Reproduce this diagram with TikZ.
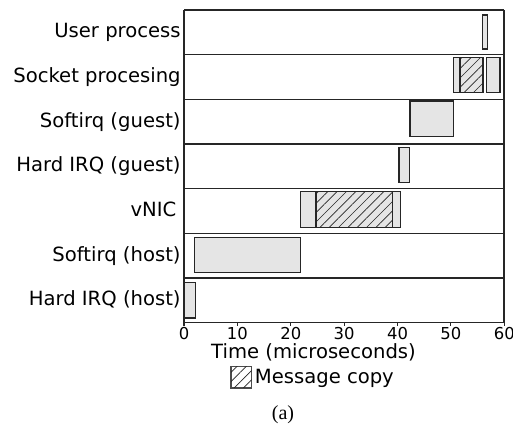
\documentclass[tikz,border=0pt]{standalone}
\usepackage{fontspec}
\setmainfont{DejaVu Sans}
\newfontfamily\captionfont{Liberation Serif}
\usetikzlibrary{patterns.meta}

% one unit = one pixel of the final 513 x 426 image; y grows downwards
\tikzset{
  gridline/.style={draw=black!85, line width=0.55pt},
  barbox/.style={draw=black!85, line width=0.7pt, fill=black!10},
  hatchfill/.style={pattern={Lines[angle=45,distance=3.3pt,line width=0.35pt]}, pattern color=black!85},
  rowlabel/.style={anchor=base east, inner sep=0pt, font=\fontsize{9.8}{11}\selectfont},
  ticklabel/.style={anchor=base, inner sep=0pt, font=\fontsize{8.2}{10}\selectfont},
  axistitle/.style={anchor=base, inner sep=0pt, font=\fontsize{9.8}{11}\selectfont},
}

\begin{document}
\begin{tikzpicture}[x=0.5pt, y=-0.5pt]
  \useasboundingbox (0,0) rectangle (513,426);

  % row boundaries of the timeline
  \foreach \k in {0,...,7}
    \draw[gridline] (184,{10+44.67*\k}) -- (504,{10+44.67*\k});
  \draw[gridline] (184,10) -- (184,322.7);
  \draw[gridline] (504,10) -- (504,322.7);

  % row labels (the vNIC label sits a little left of the others)
  \foreach \k/\name/\txt/\xr in {0/up/User process/181, 1/sp/Socket procesing/181, 2/sg/Softirq (guest)/181,
      3/hg/Hard IRQ (guest)/181, 4/vn/vNIC/176.7, 5/sh/Softirq (host)/181, 6/hh/Hard IRQ (host)/181}
    \node[rowlabel] (lab-\name) at (\xr,{10+44.67*\k+22.3+5.5}) {\txt};

  % time axis ticks and labels
  \foreach \t in {0,...,6} {
    \draw[gridline] ({184+53.38*\t},322.7) -- ({184+53.38*\t},326);
    \node[ticklabel] (tick\t) at ({184+53.38*\t},340) {\ifnum\t=0 0\else\t0\fi};
  }
  \node[axistitle] (xtitle) at (313.5,359) {Time (microseconds)};

  % User process
  \draw[barbox] (482.7,15) rectangle (487.3,49);
  % Socket processing (with message copy)
  \draw[barbox] (453.3,57.3) rectangle (483.3,92.7);
  \fill[hatchfill] (460,57.3) rectangle (482.3,92.7);
  \draw[barbox, fill=none] (460,57.3) rectangle (482.3,92.7);
  \draw[barbox] (486.7,57.3) rectangle (500,92.7);
  % Softirq (guest)
  \draw[barbox] (410,101) rectangle (453.3,136.7);
  % Hard IRQ (guest)
  \draw[barbox] (399,147.3) rectangle (409.3,182.3);
  % vNIC (with message copy)
  \draw[barbox] (300.3,191.7) rectangle (400.3,227.3);
  \fill[hatchfill] (316,191.7) rectangle (392.3,227.3);
  \draw[barbox, fill=none] (316,191.7) rectangle (392.3,227.3);
  % Softirq (host)
  \draw[barbox] (194.3,237.7) rectangle (300.3,272.7);
  % Hard IRQ (host)
  \draw[barbox] (184.3,282.7) rectangle (195.7,318);

  % legend
  \draw[draw=black!70, line width=0.6pt, fill=white] (231,366.7) rectangle (251.7,388);
  \fill[hatchfill] (231,366.7) rectangle (251.7,388);
  \node[anchor=base west, inner sep=0pt, font=\fontsize{9.8}{11}\selectfont] (legend) at (254.5,384) {Message copy};

  % sub-figure caption
  \node[anchor=base, inner sep=0pt, font=\captionfont\fontsize{10}{12}\selectfont] (caption) at (283,419) {(a)};
\end{tikzpicture}
\end{document}
